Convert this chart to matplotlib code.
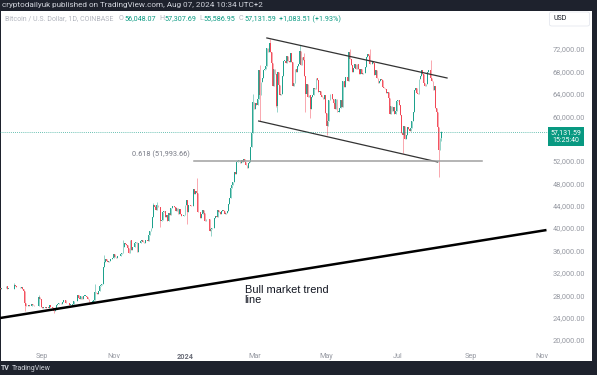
import numpy as np
import pandas as pd
import matplotlib
matplotlib.use("Agg")
import matplotlib.pyplot as plt
import matplotlib.dates as mdates
from matplotlib.patches import Rectangle, FancyBboxPatch

plt.rcParams['font.family'] = ['Roboto', 'DejaVu Sans']

# BTC/USD daily closes (thousand USD). First value = 2023-07-26 (open of first candle)
closes_jul23 = [29.35, 29.2, 29.3, 29.35, 29.28, 29.23]
closes_aug23 = [29.7, 29.2, 29.2, 29.1, 29.05, 29.05, 29.2, 29.8, 29.6, 29.4,
                29.4, 29.4, 29.3, 29.4, 29.2, 28.7, 26.6, 26.05, 26.1, 26.2,
                26.1, 26.0, 26.4, 26.2, 26.1, 26.0, 26.1, 26.1, 27.7, 27.3, 25.9]
closes_sep23 = [25.8, 25.9, 25.95, 25.8, 25.8, 25.75, 26.2, 25.9, 25.9, 25.8,
                25.1, 25.8, 26.2, 26.5, 26.6, 26.55, 26.5, 26.75, 27.2, 27.1,
                26.6, 26.6, 26.6, 26.3, 26.3, 26.2, 26.35, 27.0, 26.9, 26.95]
closes_oct23 = [27.98, 27.5, 27.4, 27.8, 27.4, 27.95, 27.95, 27.95, 27.6, 27.4,
                26.8, 26.75, 26.85, 26.85, 27.15, 28.5, 28.4, 28.3, 28.7, 29.7,
                29.9, 30.0, 33.0, 33.9, 34.5, 34.15, 33.9, 34.1, 34.5, 34.5, 34.65]
closes_nov23 = [35.4, 34.9, 34.7, 35.0, 35.0, 35.0, 35.4, 35.6, 36.7, 37.3,
                37.1, 37.0, 36.5, 35.5, 37.85, 36.15, 36.6, 36.55, 37.35, 37.45,
                35.75, 37.4, 37.3, 37.7, 37.8, 37.45, 37.25, 37.8, 37.85, 37.7]
closes_dec23 = [38.7, 39.45, 39.95, 41.95, 44.1, 43.8, 43.3, 44.2, 43.7, 43.8,
                41.25, 41.5, 42.9, 43.0, 41.9, 42.25, 41.35, 42.65, 42.25, 43.65,
                43.9, 43.97, 43.7, 43.0, 43.6, 42.5, 43.45, 42.6, 42.1, 42.15, 42.3]
closes_jan24 = [44.2, 44.95, 42.85, 44.2, 44.15, 43.95, 43.95, 46.95, 46.1, 46.65,
                46.35, 42.85, 42.85, 41.75, 42.5, 43.15, 42.75, 41.3, 41.6, 41.65,
                41.55, 39.55, 39.9, 40.1, 39.95, 41.8, 42.1, 42.05, 43.3, 42.95, 42.55]
closes_feb24 = [43.1, 43.2, 43.0, 42.6, 42.7, 43.1, 44.35, 45.3, 47.15, 47.75,
                48.3, 49.95, 49.7, 51.8, 51.9, 52.15, 51.65, 52.1, 51.8, 52.3,
                51.85, 51.3, 50.75, 51.6, 51.75, 54.5, 57.05, 62.5, 61.2]
closes_mar24 = [62.4, 62.05, 63.15, 68.3, 63.8, 66.1, 66.9, 68.3, 68.5, 69.0,
                72.1, 71.5, 73.1, 71.4, 69.5, 65.3, 68.4, 67.6, 61.9, 67.9,
                65.5, 63.8, 64.0, 67.2, 69.9, 69.9, 69.5, 70.8, 69.9, 69.65, 71.3]
closes_apr24 = [69.65, 65.45, 65.95, 68.5, 67.85, 68.9, 69.35, 71.6, 69.1, 70.6,
                70.0, 67.15, 63.9, 65.7, 63.4, 63.8, 61.3, 63.45, 63.8, 64.95,
                64.9, 66.8, 66.4, 64.3, 64.5, 63.75, 63.4, 63.1, 63.85, 60.6]
closes_may24 = [58.25, 59.1, 62.9, 63.9, 64.0, 63.15, 62.3, 61.2, 63.1, 60.8,
                60.8, 61.45, 62.9, 61.55, 66.25, 65.25, 67.05, 66.95, 66.25, 71.45,
                70.15, 69.15, 67.9, 68.55, 69.3, 68.5, 69.4, 68.35, 67.6, 68.35, 67.5]
closes_jun24 = [67.75, 67.75, 68.8, 70.55, 71.1, 70.8, 69.35, 69.3, 69.65, 69.5,
                67.3, 68.25, 66.75, 66.0, 66.2, 66.65, 66.5, 65.15, 64.95, 64.85,
                64.1, 64.25, 63.2, 60.3, 61.8, 60.85, 61.65, 60.3, 60.9, 62.7]
closes_jul24 = [62.85, 62.05, 60.15, 57.05, 56.65, 58.25, 55.85, 56.7, 58.05, 57.7,
                57.35, 57.9, 59.2, 60.8, 64.7, 65.1, 64.1, 63.95, 66.7, 67.15,
                68.2, 67.55, 65.9, 65.35, 65.75, 67.9, 68.2, 68.25, 66.8, 66.2, 64.6]
closes_aug24 = [65.35, 61.5, 60.7, 58.1, 54.0, 56.048, 57.13159]

# notable wick extremes (thousand USD)
wick_highs = {'2023-08-08': 30.2, '2023-08-29': 28.1, '2023-10-16': 30.0, '2023-10-24': 35.2,
              '2023-11-09': 37.9, '2023-12-05': 44.4, '2023-12-08': 44.7, '2024-01-11': 49.0,
              '2024-02-28': 64.0, '2024-03-05': 69.2, '2024-03-14': 73.8, '2024-04-08': 72.7,
              '2024-04-12': 71.2, '2024-05-21': 71.95, '2024-06-07': 72.0, '2024-07-29': 70.0,
              '2024-08-07': 57.31}
wick_lows = {'2023-08-17': 25.2, '2023-09-11': 24.9, '2023-10-12': 26.55, '2023-12-11': 40.2,
             '2024-01-03': 40.8, '2024-01-23': 38.5, '2024-03-05': 59.2, '2024-03-19': 61.6,
             '2024-03-20': 60.8, '2024-04-13': 60.7, '2024-04-17': 59.7, '2024-05-01': 56.6,
             '2024-07-05': 53.5, '2024-08-05': 49.2, '2024-08-07': 55.59}

# drawn lines: (date, price in thousand USD)
bull_line = [('2023-07-27', 23.93), ('2024-11-05', 39.65)]
channel_top = [('2024-03-11', 73.97), ('2024-08-12', 66.82)]
channel_bottom = [('2024-03-04', 59.13), ('2024-08-04', 51.81)]
fib_level = 51.99366
fib_span = ['2024-01-09', '2024-09-11']
last_price = 57.13159

y_ticks = [20, 24, 28, 32, 36, 40, 44, 48, 52, 60, 64, 68, 72]
x_ticks = ['2023-09-01', '2023-11-01', '2024-01-01', '2024-03-01', '2024-05-01',
           '2024-07-01', '2024-09-01', '2024-11-01']
x_labels = ['Sep', 'Nov', '2024', 'Mar', 'May', 'Jul', 'Sep', 'Nov']

legend_title = 'Bitcoin / U.S. Dollar, 1D, COINBASE'
legend_keys = ['O', 'H', 'L', 'C']
legend_vals = ['56,048.07', '57,307.69', '55,586.95', '57,131.59']
legend_change = '+1,083.51 (+1.93%)'

closes = np.array(closes_jul23 + closes_aug23 + closes_sep23 + closes_oct23 + closes_nov23 +
                  closes_dec23 + closes_jan24 + closes_feb24 + closes_mar24 + closes_apr24 +
                  closes_may24 + closes_jun24 + closes_jul24 + closes_aug24) * 1000
dates = pd.date_range('2023-07-26', periods=len(closes), freq='D')
df = pd.DataFrame({'close': closes}, index=dates)
df['open'] = df['close'].shift(1)
df = df.iloc[1:]
df['high'] = df[['open', 'close']].max(axis=1)
df['low'] = df[['open', 'close']].min(axis=1)
for d, v in wick_highs.items():
    df.loc[d, 'high'] = v * 1000
for d, v in wick_lows.items():
    df.loc[d, 'low'] = v * 1000

UP = '#089981'
DOWN = '#f23645'
DARK = '#1e222d'

fig = plt.figure(figsize=(5.97, 3.75), dpi=100, facecolor=DARK)
W, H = 597, 375
renderer = fig.canvas.get_renderer()


def fit_width(txt, target_px):
    # scale a text's font size so its rendered width matches the reference
    w = txt.get_window_extent(renderer).width
    txt.set_fontsize(txt.get_fontsize() * target_px / w)
    return txt


fig.patches.append(Rectangle((1 / W, 1 - 361 / H), 591 / W, 350 / H, transform=fig.transFigure,
                             facecolor='white', edgecolor='none', zorder=-1))

ax = fig.add_axes([0, 1 - 347 / H, 548 / W, 336 / H])
ax.set_facecolor('none')

x = mdates.date2num(df.index)
colors = np.where(df['close'] >= df['open'], UP, DOWN)
ax.vlines(x, df['low'], df['high'], colors=colors, linewidth=0.6, alpha=0.5)
body_h = (df['close'] - df['open']).abs().clip(lower=60)
ax.bar(x, body_h, bottom=df[['open', 'close']].min(axis=1), width=0.75, color=colors,
       linewidth=0, alpha=0.85)

def line_xy(pts):
    return [mdates.date2num(pd.Timestamp(d)) for d, _ in pts], [p * 1000 for _, p in pts]

bx, by = line_xy(bull_line)
ax.plot(bx, by, color='black', linewidth=1.8, solid_capstyle='butt')
cx, cy = line_xy(channel_top)
ax.plot(cx, cy, color='#333333', linewidth=0.9)
cx, cy = line_xy(channel_bottom)
ax.plot(cx, cy, color='#333333', linewidth=0.9)

fx = [mdates.date2num(pd.Timestamp(d)) for d in fib_span]
ax.plot(fx, [fib_level * 1000] * 2, color='#a0a0a0', linewidth=1.1)
fib_txt = ax.text(fx[0] - 4, 53100, '0.618 (51,993.66)', color='#787b86', fontsize=5,
                  ha='right', va='center')
fit_width(fib_txt, 59)

ax.axhline(last_price * 1000, color=UP, linewidth=0.6, linestyle=(0, (1, 1.5)), alpha=0.8)

bull_kw = dict(fontsize=7.9, family=['Liberation Sans', 'DejaVu Sans'], color='#131722',
               ha='left', va='baseline')
bull_x = mdates.date2num(pd.Timestamp('2024-02-21'))
b1 = ax.text(bull_x, 28400, 'Bull market trend', **bull_kw)
fit_width(b1, 84)
ax.text(bull_x, 26600, 'line', **dict(bull_kw, fontsize=b1.get_fontsize()))

t0 = mdates.date2num(pd.Timestamp('2023-07-26')) + 0.9
ax.set_xlim(t0, t0 + 468.4)
ax.set_ylim(18750, 78790)
for s in ax.spines.values():
    s.set_visible(False)

ax.set_xticks([mdates.date2num(pd.Timestamp(d)) for d in x_ticks])
ax.set_xticklabels(x_labels)
for lbl in ax.get_xticklabels():
    lbl.set_color('#9598a1')
    if lbl.get_text() == '2024':
        lbl.set_color('#6a6d78')
        lbl.set_fontweight('bold')
ax.tick_params(axis='x', length=0, labelsize=5.2, pad=4)

ax.yaxis.tick_right()
ax.set_yticks([v * 1000 for v in y_ticks])
ax.set_yticklabels([f'{v * 1000:,.2f}' for v in y_ticks])
probe = fig.text(0, 0, '72,000.00', fontsize=5)
ysize = 5 * 32 / probe.get_window_extent(renderer).width
probe.remove()
ax.tick_params(axis='y', length=0, labelsize=ysize, pad=3.2, labelcolor='#9598a1')

# header / legend / footer
hdr = fig.text(2 / W, 1 - 5.5 / H, 'cryptodailyuk published on TradingView.com, Aug 07, 2024 10:34 UTC+2',
               color='#d1d4dc', fontsize=5.8, va='center', ha='left')
fit_width(hdr, 259)

title = fig.text(5 / W, 1 - 19 / H, legend_title, color='#b2b5be', fontsize=5,
                 va='center', ha='left')
fit_width(title, 109)
leg_y = 1 - 19 / H
num_probe = fig.text(0, 0, legend_vals[0], fontsize=5)
num_size = 5 * 32 / num_probe.get_window_extent(renderer).width
num_probe.remove()
key_x = [119, 159, 199, 239]
for kx, k, v in zip(key_x, legend_keys, legend_vals):
    kt = fig.text(kx / W, leg_y, k, color='#b2b5be', fontsize=num_size, va='center', ha='left')
    kw = kt.get_window_extent(renderer).width
    fig.text((kx + kw + 0.6) / W, leg_y, v, color=UP, fontsize=num_size, va='center', ha='left')
fig.text(279 / W, leg_y, legend_change, color=UP, fontsize=num_size, va='center', ha='left')

fig.patches.append(FancyBboxPatch((549.5 / W, 1 - 26 / H), 40 / W, 14 / H,
                                  boxstyle='round,pad=0,rounding_size=0.004',
                                  transform=fig.transFigure, facecolor='white',
                                  edgecolor='#e0e3eb', linewidth=0.5, zorder=3))
fig.text(553 / W, 1 - 19 / H, 'USD', color='#131722', fontsize=5, va='center', ha='left', zorder=4)
fig.text(566 / W, 1 - 136.5 / H, '57,131.59\n15:25:40', color='white', fontsize=5, va='center',
         ha='center', linespacing=1.0,
         bbox=dict(boxstyle='square,pad=0.35', facecolor=UP, edgecolor='none'))

fig.text(1 / W, 1 - 368 / H, 'TV', color='#d1d4dc', fontsize=5, fontweight='bold', va='center')
fig.text(12 / W, 1 - 368 / H, 'TradingView', color='#d1d4dc', fontsize=5, va='center')

fig.savefig('out.png', dpi=100, facecolor=DARK)
